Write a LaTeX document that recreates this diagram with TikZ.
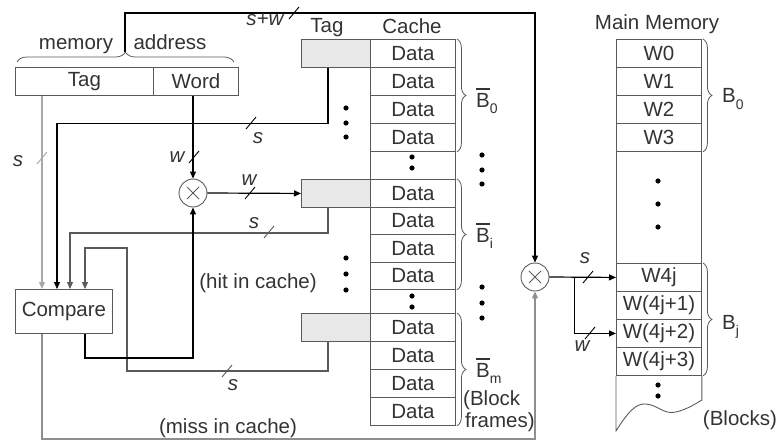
\documentclass[tikz,border=0pt]{standalone}
\usepackage{fontspec}
\setmainfont{Liberation Sans}
\usetikzlibrary{arrows.meta,decorations.pathreplacing,calc}
\definecolor{lgray}{HTML}{A8A8A8}
\definecolor{dgray}{HTML}{5A5A5A}
\definecolor{boxline}{HTML}{5A5A5A}
\definecolor{tagfill}{HTML}{E8E8E8}
\definecolor{txt}{HTML}{333333}
\newcommand{\Bbar}[1]{\makebox[0pt][l]{\rule[0.86em]{0.667em}{0.06em}}B\raisebox{-0.3em}{\fontsize{14}{14}\selectfont #1}}
\newcommand{\Bsub}[1]{B\raisebox{-0.3em}{\fontsize{14}{14}\selectfont #1}}
\begin{document}
\begin{tikzpicture}[x=1pt,y=-1pt,
  font=\fontsize{20.5}{22}\selectfont, text=txt,
  cell/.style={draw=boxline, line width=0.9pt, minimum height=28pt, inner sep=0pt, anchor=north west},
  dcell/.style={cell, minimum width=85pt},
  tcell/.style={cell, minimum width=69pt, fill=tagfill},
  lbl/.style={anchor=base, inner sep=0pt},
  ilbl/.style={lbl, font=\fontsize{20.5}{22}\selectfont\itshape},
  conn/.style={line width=1.2pt},
  arr/.style={conn, -{Triangle[length=7pt,width=6pt]}},
  mux/.style={circle, draw=boxline, line width=0.9pt, minimum size=28pt, inner sep=0pt,
    path picture={\draw[boxline, line width=0.9pt] (path picture bounding box.center) ++(-6pt,-6pt) -- ++(12pt,12pt) ++(-12pt,0pt) -- ++(12pt,-12pt);}},
  brc/.style={draw=boxline, line width=0.8pt, decorate, decoration={brace, amplitude=9pt, raise=1pt}},
  bus/.pic={\draw[line width=0.9pt] (-5,6) -- (5,-6);}
]
\useasboundingbox (0,0) rectangle (779,441);

% ---- memory address
\node[cell, minimum width=138pt] (tagf) at (15,67) {Tag};
\node[cell, minimum width=85pt] (wordf) at (153,67) {Word};
\draw[brc, decoration={brace, amplitude=10pt, raise=5pt}] ([xshift=2pt]tagf.north west) -- ([xshift=-5pt]wordf.north east);
\coordinate (atip) at (125,52);
\node[lbl] (mem) at (76,50) {memory};
\node[lbl] (addr) at (170,50) {address};

% ---- compare
\node[cell, minimum width=97pt, minimum height=44pt] (cmp) at (15,289) {Compare};

% ---- multiplexers
\node[mux] (mx1) at (193,193) {};
\node[mux] (mx2) at (535,277) {};

% ---- cache
\node[lbl] (taghd) at (327,33) {Tag};
\node[lbl] (cachehd) at (412,34) {Cache};
\node[dcell] (c01) at (370,39) {Data};
\node[dcell] (c02) at (370,67) {Data};
\node[dcell] (c03) at (370,95) {Data};
\node[dcell] (c04) at (370,123) {Data};
\node[dcell] (cg1) at (370,151) {};
\node[dcell, minimum height=27.5pt] (ci1) at (370,179) {Data};
\node[dcell, minimum height=27.5pt] (ci2) at (370,206.5) {Data};
\node[dcell, minimum height=27.5pt] (ci3) at (370,234) {Data};
\node[dcell, minimum height=27.5pt] (ci4) at (370,261.5) {Data};
\node[dcell, minimum height=24pt] (cg2) at (370,289) {};
\node[dcell] (cm1) at (370,313) {Data};
\node[dcell] (cm2) at (370,341) {Data};
\node[dcell] (cm3) at (370,369) {Data};
\node[dcell] (cm4) at (370,397) {Data};

\node[tcell] (t0) at (301,39) {};
\node[tcell] (ti) at (301,179) {};
\node[tcell] (tm) at (301,313) {};

\draw[brc] (c01.north east) -- (c04.south east);
\draw[brc] (ci1.north east) -- (ci4.south east);
\draw[brc] (cm1.north east) -- (cm4.south east);
\node[anchor=west, inner sep=0pt] (lb0) at (476,101) {\Bbar{0}};
\node[anchor=west, inner sep=0pt] (lbi) at (476,236) {\Bbar{i}};
\node[anchor=west, inner sep=0pt] (lbm) at (476,371) {\Bbar{m}};
\node[lbl, anchor=base west] (bf1) at (463,405) {(Block};
\node[lbl, anchor=base west] (bf2) at (465,427) {frames)};

% dots in cache
\foreach \y in {157,168,296,307} \fill (412,\y) circle (2.6pt);
\foreach \y in {108,123,137,258,274,290} \fill (346,\y) circle (2.6pt);
\foreach \y in {155,170,184,287,303,318} \fill (482,\y) circle (2.6pt);

% ---- main memory
\node[lbl] (mmhd) at (657,30) {Main Memory};
\node[dcell] (w0) at (616,39) {W0};
\node[dcell] (w1) at (616,67) {W1};
\node[dcell] (w2) at (616,95) {W2};
\node[dcell] (w3) at (616,123) {W3};
\node[dcell, minimum height=112pt] (wg) at (616,151) {};
\node[dcell] (w4) at (616,263) {W4j};
\node[dcell] (w5) at (616,291) {W(4j+1)};
\node[dcell] (w6) at (616,319) {W(4j+2)};
\node[dcell] (w7) at (616,347) {W(4j+3)};
\draw[boxline, line width=0.9pt] (w7.south west) -- ++(0,55)
  .. controls (628,412) and (636,403) .. (646,404)
  .. controls (658,405) and (664,415) .. (676,412)
  .. controls (688,409) and (695,404) .. (w7.south east |- 0,400) -- (w7.south east);
\foreach \y in {181,204,227,385,396} \fill (658,\y) circle (2.6pt);
\draw[brc] (w0.north east) -- (w3.south east);
\draw[brc] (w4.north east) -- (w7.south east);
\node[anchor=west, inner sep=0pt] (mb0) at (722,99) {\Bsub{0}};
\node[anchor=west, inner sep=0pt] (mbj) at (722,327) {\Bsub{j}};
\node[lbl] (blocks) at (740,425) {(Blocks)};

% ---- connectors
% tag field -> compare
\draw[arr, lgray] ([xshift=27pt]tagf.south west) -- ([xshift=27pt]cmp.north west);
\pic[lgray] at (42,158) {bus};
\node[ilbl] (ls1) at (18,167) {s};
% tag B0 -> compare
\draw[arr] ([xshift=27pt]t0.south west) -- ++(0,56) -| ([xshift=42pt]cmp.north west);
\pic at (251,123) {bus};
\node[ilbl] (ls2) at (258,143) {s};
% tag Bi -> compare
\draw[arr, dgray] ([xshift=27pt]ti.south west) -- ++(0,25) -| ([xshift=55pt]cmp.north west);
\pic[dgray] at (269,232) {bus};
\node[ilbl] (ls3) at (254,228) {s};
% tag Bm -> compare
\draw[arr, dgray] ([xshift=27pt]tm.south west) -- ++(0,29) -- ++(-201,0) -- ++(0,-123) -| ([xshift=70pt]cmp.north west);
\pic[dgray] at (227,371) {bus};
\node[ilbl] (ls4) at (233,390) {s};
% word -> mux1
\draw[arr] (wordf.south -| mx1.north) -- (mx1.north);
\pic at (194,157) {bus};
\node[ilbl] (lw1) at (177,162) {w};
% mux1 -> tag Bi
\draw[arr] (mx1.east) -- (ti.west);
\pic at (250,193) {bus};
\node[ilbl] (lw2) at (249,185) {w};
% compare -> mux1 (hit)
\draw[arr] ([xshift=70pt]cmp.south west) -- ++(0,24) -| (mx1.south);
\node[lbl] (hit) at (258,288) {(hit in cache)};
% compare -> mux2 (miss)
\draw[arr, lgray!85!black] ([xshift=27pt]cmp.south west) -- ++(0,105) -| (mx2.south);
\node[lbl] (miss) at (228,433) {(miss in cache)};
% address -> mux2
\draw[arr] (atip) -- (atip |- 0,13) -| (mx2.north);
\pic at (294,13) {bus};
\node[ilbl] (lsw) at (265,26) {s+w};
% mux2 -> main memory
\coordinate (br) at ([xshift=25pt]mx2.east);
\draw[arr] (mx2.east) -- (w4.west);
\pic at (588,277) {bus};
\node[ilbl] (ls5) at (585,263) {s};
\draw[arr] (br) |- (w6.west);
\pic at (590,333) {bus};
\node[ilbl] (lw3) at (582,351) {w};
\end{tikzpicture}
\end{document}
